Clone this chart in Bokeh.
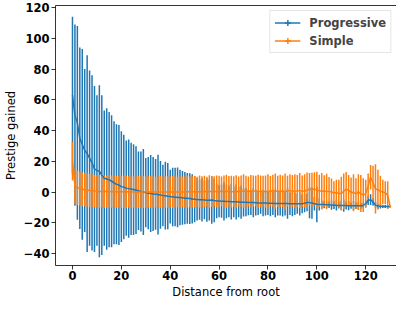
import math
from bokeh.plotting import figure
from bokeh.models import ColumnDataSource, Range1d, LinearAxis, Legend, LegendItem, FixedTicker
from bokeh.embed import file_html
from bokeh.resources import INLINE

# ---------------- data ----------------
distance = list(range(0, 131))

prog_mean = [
    63, 50, 45, 35, 31, 27, 25, 22, 19, 15,
    14, 13.5, 11, 9, 8.5, 8, 7, 6, 5, 4.5,
    3.5, 3.2, 2.5, 2.2, 2.0, 1.6, 1.2, 0.8, 0.3, 0,
    -0.4, -0.8, -1.0, -1.3, -1.5, -1.7, -1.9, -2.2, -2.4, -2.7,
    -3.0, -3.2, -3.3, -3.5, -3.6, -3.8, -4.0, -4.1, -4.3, -4.5,
    -4.7, -4.8, -5.0, -5.1, -5.2, -5.3, -5.3, -5.2, -5.5, -5.8,
    -5.9, -6.0, -6.0, -6.1, -6.2, -6.3, -6.4, -6.4, -6.5, -6.6,
    -6.6, -6.7, -6.8, -6.9, -6.9, -7.0, -7.1, -7.1, -7.2, -7.2,
    -7.3, -7.3, -7.3, -7.4, -7.4, -7.4, -7.5, -7.5, -7.5, -7.6,
    -7.6, -7.6, -7.7, -7.7, -7.7, -7.3, -6.8, -6.9, -7.2, -7.6,
    -8.0, -8.1, -8.2, -8.2, -8.3, -8.4, -8.5, -8.6, -8.6, -8.7,
    -8.7, -8.8, -8.8, -8.9, -8.9, -8.9, -9.0, -9.0, -9.0, -8.8,
    -7.5, -5.5, -5.0, -6.5, -8.5, -9.2, -9.3, -9.4, -9.4, -9.5, -9.5,
]
prog_err = [
    51, 59, 63, 59, 62, 53, 64, 57, 57, 54,
    49, 56, 52, 44, 46, 44, 43, 40, 39, 39,
    36, 34, 31, 32, 30, 29.5, 28.5, 25.5, 26, 28,
    22.5, 23.5, 25, 24, 23, 26, 22, 20, 22, 21.5,
    17.5, 19, 19, 19.5, 18, 17.5, 17, 16.5, 16.5, 16,
    14.9, 13.7, 13.1, 14.1, 12.5, 14.1, 13.2, 15.5, 14.1, 11.2,
    10.5, 10.8, 12.5, 10.9, 10.2, 11.6, 10, 11.5, 9.9, 10.8,
    9.4, 9.1, 8.3, 8, 9.5, 8.3, 7.8, 7.1, 8.5, 8.1,
    7.6, 8.4, 7.6, 9, 7.9, 7.9, 8.5, 7.8, 9.9, 7.3,
    8.1, 7.3, 6.5, 7.6, 6.1, 5.8, 5.7, 10.1, 10.2, 4.4,
    11.6, 3.9, 2.7, 2.3, 2.1, 2.0, 3, 2.5, 3.5, 2,
    3, 4, 2.5, 3, 2, 3, 2, 2.5, 2, 2,
    2.5, 3, 3.5, 2.5, 2, 1.5, 1.5, 1, 1, 1, 0.5,
]
simple_mean = [
    20, 3.8, 2.8, 2.2, 1.8, 1.5, 1.3, 1.0, 0.8, 0.6,
    0.5, 0.4, 0.4, 0.3, 0.3, 0.3, 0.2, 0.2, 0.2, 0.2,
    0.2, 0.1, 0.1, 0.1, 0.1, 0, 0, 0, 0, 0,
    0, 0, 0, 0, 0, 0, 0, 0, 0, 0,
    0, 0, 0, 0, 0, 0, 0, 0.1, 0.1, 0.1,
    0.2, 0.2, 0.2, 0.2, 0.3, 0.3, 0.3, 0.3, 0.4, 0.4,
    0.4, 0.5, 0.3, 0.4, 0.5, 0.3, 0.2, 0.3, 0.4, 0.5,
    0.6, 0.4, 0.3, 0.5, 0.6, 0.7, 0.5, 0.4, 0.5, 0.3,
    0.3, 0.5, 0.8, 0.6, 0.4, 0.7, 0.5, 0.3, 0.6, 0.9,
    0.7, 0.5, 0.6, 0.9, 0.5, 0.7, 1.2, 1.8, 1.5, 2.0,
    1.2, 0.8, 0.5, 0.6, 0.3, 0.4, 0, -0.5, -0.5, -1,
    -1, 0.5, 2, 1, 0, -0.5, -1, 0, -1, -2,
    -1, 4, 9.6, 6, 2, 1.5, 0.5, 0, -0.5, -2, -9.5,
]
simple_err = [
    12.5, 11.5, 11.2, 11.0, 11.0, 10.8, 11, 10.8, 10.6, 10.7,
    10.5, 10.6, 10.4, 10.5, 10.3, 10.6, 10.4, 10.3, 10.5, 10.2,
    10.4, 10.3, 10.5, 10.2, 10.4, 10.3, 10.1, 10.4, 10.2, 10.5,
    10.3, 10.1, 10.4, 10.2, 10.0, 10.3, 10.5, 10.1, 10.3, 10.2,
    10.0, 10.4, 10.2, 10.1, 10.3, 9.9, 10.2, 10.4, 10.0, 10.1,
    10.3, 9.8, 10.5, 10.0, 10.2, 9.7, 10.6, 10.1, 9.8, 10.4,
    10.2, 9.6, 10.5, 10.8, 9.9, 10.3, 10.0, 10.6, 9.7, 10.2,
    10.9, 10.1, 9.8, 10.6, 10.2, 9.9, 10.8, 10.3, 10.0, 10.5,
    11.2, 9.9, 10.4, 11.5, 10.1, 10.6, 10.2, 11.8, 10.0, 10.7,
    10.3, 11.0, 10.5, 11.4, 10.2, 10.8, 11.5, 10.6, 11.0, 10.8,
    12.0, 10.5, 11.8, 10.3, 11.5, 9.3, 8.8, 7.5, 8.5, 9.0,
    11.0, 11.5, 11.0, 10.0, 9.5, 12.0, 10.0, 11.5, 12.0, 11.0,
    9.0, 8.0, 8.0, 11.0, 16.0, 13.0, 10.0, 8.0, 7.5, 9.0, 0.5,
]

series_names = ["Progressive", "Simple"]
series_colors = ["#1f77b4", "#ff7f0e"]
x_ticks = [0, 20, 40, 60, 80, 100, 120]
y_ticks = [-40, -20, 0, 20, 40, 60, 80, 100, 120]

for arr in (prog_mean, prog_err, simple_mean, simple_err):
    assert len(arr) == len(distance), len(arr)


def make_source(means, errs):
    return ColumnDataSource(dict(
        x=distance,
        y=means,
        lo=[m - e for m, e in zip(means, errs)],
        hi=[m + e for m, e in zip(means, errs)],
    ))


src_p = make_source(prog_mean, prog_err)
src_s = make_source(simple_mean, simple_err)

FONT = "DejaVu Sans"
FS = "11.5px"

p = figure(width=396, height=301, output_backend="svg", toolbar_location=None,
           x_range=Range1d(-6.95, 132.6), y_range=Range1d(-47.8, 121.3),
           min_border_left=5, min_border_right=0, min_border_top=5, min_border_bottom=0)
p.background_fill_color = "white"
p.border_fill_color = "white"
p.outline_line_color = None
p.xgrid.visible = False
p.ygrid.visible = False

# error bars
p.segment(x0="x", y0="lo", x1="x", y1="hi", source=src_p, line_color=series_colors[0], line_width=1.5)
p.segment(x0="x", y0="lo", x1="x", y1="hi", source=src_s, line_color=series_colors[1], line_width=1.5)
# mean lines
lp = p.line("x", "y", source=src_p, line_color=series_colors[0], line_width=1.5)
ls = p.line("x", "y", source=src_s, line_color=series_colors[1], line_width=1.5)

# legend-only markers (the vertical cap of the errorbar symbol); NaN so nothing is drawn on the plot
nan = float("nan")
cp = p.scatter(x=[nan], y=[nan], marker="cross", size=11, line_color=series_colors[0], line_width=1.5)
cs = p.scatter(x=[nan], y=[nan], marker="cross", size=11, line_color=series_colors[1], line_width=1.5)

legend = Legend(items=[LegendItem(label=series_names[0], renderers=[lp, cp]),
                       LegendItem(label=series_names[1], renderers=[ls, cs])],
                location="top_right")
legend.label_text_font = FONT
legend.label_text_font_style = "bold"
legend.label_text_font_size = FS
legend.glyph_width = 26
legend.glyph_height = 15
legend.label_height = 15
legend.label_standoff = 9
legend.spacing = 3
legend.padding = 4
legend.margin = 5
legend.border_line_color = "#cccccc"
legend.border_line_width = 1
legend.background_fill_alpha = 0.8
p.add_layout(legend)

for ax in (p.xaxis[0], p.yaxis[0]):
    ax.axis_line_color = "black"
    ax.axis_line_width = 0.8
    ax.major_tick_line_color = "black"
    ax.major_tick_line_width = 0.8
    ax.major_tick_out = 4
    ax.major_tick_in = 0
    ax.minor_tick_line_color = None
    ax.major_label_text_font = FONT
    ax.major_label_text_font_style = "bold"
    ax.major_label_text_font_size = FS
    ax.major_label_text_color = "black"
    ax.major_label_standoff = 2
    ax.axis_label_text_font = FONT
    ax.axis_label_text_font_style = "normal"
    ax.axis_label_text_font_size = FS
    ax.axis_label_text_color = "black"
    ax.axis_label_standoff = 3

p.xaxis.major_label_standoff = 1
p.xaxis.axis_label_standoff = 2

p.xaxis.ticker = FixedTicker(ticks=x_ticks)
p.yaxis.ticker = FixedTicker(ticks=y_ticks)
p.xaxis.axis_label = "Distance from root"
p.yaxis.axis_label = "Prestige gained"

top_spine = LinearAxis(ticker=FixedTicker(ticks=[]), major_label_text_font_size="0px",
                       major_tick_line_color=None, minor_tick_line_color=None,
                       axis_line_color="black", axis_line_width=0.8, major_label_standoff=0)
p.add_layout(top_spine, "above")

open("out.html", "w").write(file_html(p, INLINE))
